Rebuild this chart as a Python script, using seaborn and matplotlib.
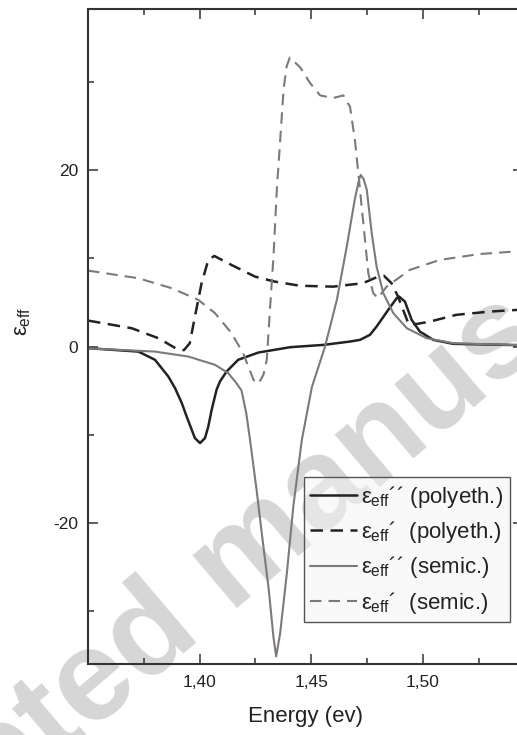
import matplotlib
matplotlib.use("Agg")
import matplotlib.pyplot as plt
from matplotlib.ticker import FixedLocator, FuncFormatter
import pandas as pd
import seaborn as sns

# Energy (eV) and effective permittivity of the two composites
# eps'' of the polyethylene composite
x_im_poly = [1.350, 1.3726, 1.380, 1.386, 1.389, 1.392, 1.3942, 1.3964, 1.3979, 1.4002,
             1.4024, 1.4039, 1.4054, 1.4076, 1.4091, 1.4121, 1.4173, 1.4263, 1.4406,
             1.4555, 1.4674, 1.4719, 1.4763, 1.4793, 1.4845, 1.4883, 1.4894, 1.4920,
             1.4950, 1.4987, 1.5047, 1.5136, 1.545]
y_im_poly = [-0.18, -0.57, -1.5, -3.4, -4.72, -6.4, -7.94, -9.4, -10.39, -10.95,
             -10.39, -9.07, -7.18, -4.9, -3.97, -2.83, -1.5, -0.68, -0.07,
             0.19, 0.57, 0.76, 1.33, 2.27, 4.16, 5.49, 5.67, 5.1,
             3.03, 1.7, 0.76, 0.31, 0.15]

# eps' of the polyethylene composite
x_re_poly = [1.350, 1.3696, 1.3815, 1.3905, 1.3930, 1.3956, 1.3979, 1.4009, 1.4039, 1.4066,
             1.4143, 1.4248, 1.4337, 1.4449, 1.4598, 1.4732, 1.4800, 1.4825, 1.4860,
             1.4889, 1.4935, 1.4950, 1.5031, 1.5150, 1.5300, 1.545]
y_re_poly = [2.95, 2.08, 0.95, -0.37, -0.4, 0.38, 3.4, 7.2, 9.83, 10.28,
             9.26, 7.94, 7.37, 6.9, 6.8, 7.19, 7.94, 8.05, 7.19,
             5.67, 2.65, 2.46, 2.83, 3.6, 3.97, 4.2]

# eps'' of the semiconductor composite
x_im_semi = [1.350, 1.380, 1.3949, 1.4069, 1.4128, 1.4165, 1.4188, 1.4209, 1.4225, 1.4255,
             1.4282, 1.4310, 1.4331, 1.4343, 1.4361, 1.4391, 1.4420, 1.4458, 1.4503,
             1.4562, 1.4615, 1.4659, 1.4696, 1.4715, 1.4722, 1.4735, 1.4749, 1.4771,
             1.4793, 1.4823, 1.4868, 1.4928, 1.5017, 1.5136, 1.545]
y_im_semi = [-0.2, -0.57, -1.13, -2.07, -3.0, -4.15, -5.0, -7.55, -10.4, -16.2,
             -21.9, -27.6, -33.0, -35.15, -32.5, -25.7, -18.1, -10.6, -4.6,
             0.0, 5.3, 11.3, 16.8, 19.0, 19.47, 19.0, 17.8, 12.9,
             9.07, 6.05, 3.79, 2.09, 0.95, 0.38, 0.15]

# eps' of the semiconductor composite
x_re_semi = [1.350, 1.3726, 1.3875, 1.3994, 1.4069, 1.4143, 1.4195, 1.4242, 1.4264, 1.4286,
             1.4301, 1.4316, 1.4331, 1.4346, 1.4361, 1.4376, 1.4389, 1.4404, 1.4450,
             1.4495, 1.4540, 1.4598, 1.4644, 1.4674, 1.4696, 1.4711, 1.4726, 1.4741,
             1.4756, 1.4778, 1.4799, 1.4838, 1.4942, 1.5076, 1.5255, 1.5420, 1.545]
y_re_semi = [8.62, 7.75, 6.62, 5.3, 3.79, 1.52, -0.75, -3.8, -4.2, -3.2,
             -1.5, 4.5, 10.2, 17.8, 23.4, 29.1, 31.7, 32.8, 31.7,
             29.9, 28.5, 28.2, 28.5, 27.2, 23.4, 19.7, 15.9, 12.1,
             8.3, 6.05, 5.5, 6.8, 8.7, 9.83, 10.5, 10.8, 10.85]

labels = [r"$ε_{\mathrm{eff}}$´´ (polyeth.)",
          r"$ε_{\mathrm{eff}}$´  (polyeth.)",
          r"$ε_{\mathrm{eff}}$´´ (semic.)",
          r"$ε_{\mathrm{eff}}$´  (semic.)"]

x_major = [1.40, 1.45, 1.50]
x_minor = [1.375, 1.425, 1.475, 1.525]
y_major = [-20, 0, 20]
y_minor = [-30, -10, 10, 30]

sns.set_theme(style="ticks")
plt.rcParams.update({
    "font.family": ["Liberation Sans", "DejaVu Sans"],
    "mathtext.fontset": "custom",
    "mathtext.rm": "Liberation Sans",
    "mathtext.it": "Liberation Sans",
    "mathtext.bf": "Liberation Sans:bold",
    "axes.unicode_minus": False,
})

DARK = "#222222"
GREY = "#7d7979"

fig = plt.figure(figsize=(5.17, 7.35), dpi=100)
fig.patch.set_facecolor("white")
ax = fig.add_axes([88 / 517, 70.7 / 735, 435 / 517, 655.3 / 735])
ax.set_facecolor("none")

fig.text(0.505, 0.200, "Accepted manuscript", rotation=40.3, rotation_mode="anchor",
         ha="center", va="baseline", fontsize=93, fontweight="bold",
         color="#d6d6d6", zorder=-5)

series = [
    (x_im_poly, y_im_poly, DARK, 1.8, None),
    (x_re_poly, y_re_poly, DARK, 1.8, (5.0, 3.0)),
    (x_im_semi, y_im_semi, GREY, 1.5, None),
    (x_re_semi, y_re_semi, GREY, 1.5, (5.5, 3.4)),
]
for (xs, ys, col, lw, dash), lab in zip(series, labels):
    df = pd.DataFrame({"E": xs, "eps": ys})
    line_kw = {} if dash is None else {"dashes": dash}
    sns.lineplot(data=df, x="E", y="eps", ax=ax, color=col, linewidth=lw,
                 sort=False, estimator=None, label=lab, **line_kw)

ax.set_xlim(1.35, 1.35 + 435 / 2232)
ax.set_ylim(-36.05, 38.3)

ax.xaxis.set_major_locator(FixedLocator(x_major))
ax.xaxis.set_minor_locator(FixedLocator(x_minor))
ax.yaxis.set_major_locator(FixedLocator(y_major))
ax.yaxis.set_minor_locator(FixedLocator(y_minor))
ax.xaxis.set_major_formatter(FuncFormatter(lambda v, p: f"{v:.2f}".replace(".", ",")))
ax.yaxis.set_major_formatter(FuncFormatter(lambda v, p: f"{v:g}"))

ax.tick_params(which="both", direction="in", top=True, right=True, colors="#333333",
               width=1.1, labelsize=12.5, labelcolor="#222222")
ax.tick_params(which="major", length=7)
ax.tick_params(which="minor", length=4.3)
ax.tick_params(axis="x", pad=8)
ax.tick_params(axis="y", pad=7)
for s in ax.spines.values():
    s.set_linewidth(1.5)
    s.set_color("#333333")

ax.set_xlabel("Energy (ev)", fontsize=16, color="#222222", labelpad=11)
ax.set_ylabel(r"$ε_{\mathrm{eff}}$", fontsize=16, color="#222222")
ax.yaxis.set_label_coords(-0.126, 0.524)

leg = ax.legend(loc="lower right", bbox_to_anchor=(0.9694, 0.064), borderaxespad=0,
                fontsize=16, frameon=True, fancybox=False, handlelength=2.1,
                handletextpad=0.18, labelspacing=0.42, borderpad=0.3)
frame = leg.get_frame()
frame.set_alpha(None)
frame.set_facecolor((0.96, 0.96, 0.96, 0.5))
frame.set_edgecolor("#555555")
frame.set_linewidth(1.0)
for t in leg.get_texts():
    t.set_color("#222222")

fig.savefig("out.png", dpi=100)
